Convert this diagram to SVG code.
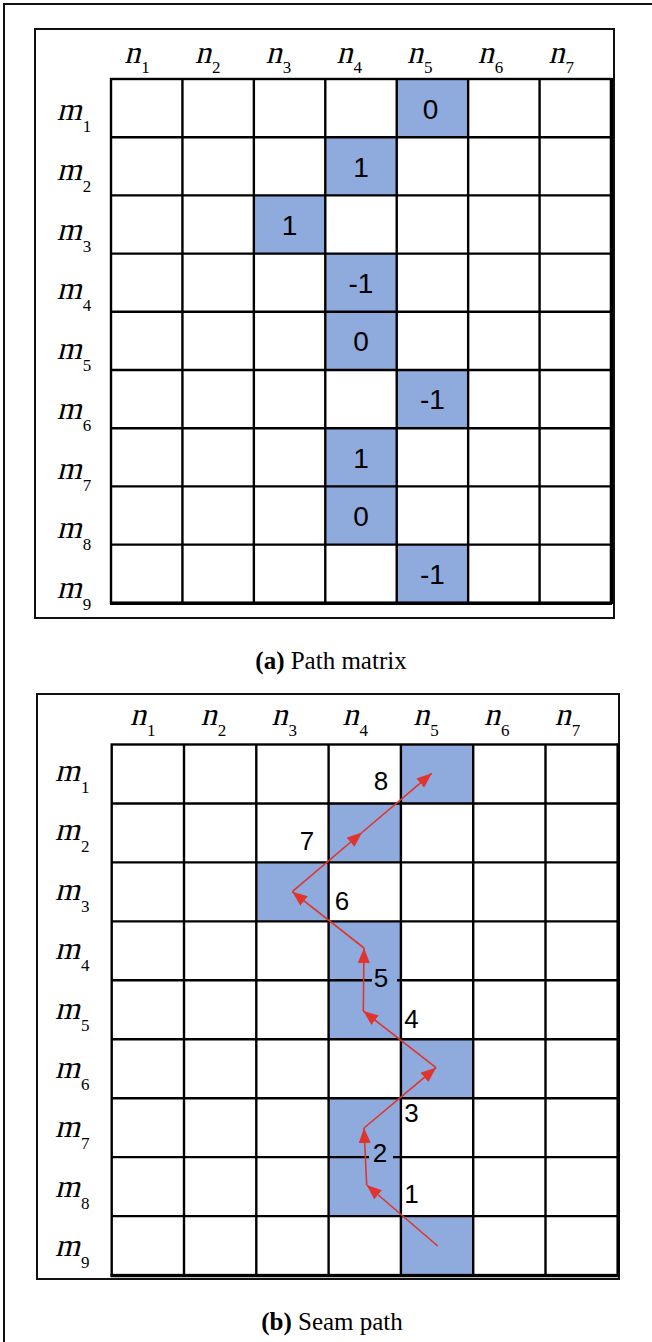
<svg xmlns="http://www.w3.org/2000/svg" width="652" height="1342" viewBox="0 0 652 1342">
<style>
.frame{fill:none;stroke:#111;stroke-width:2}
.box{fill:#fff;stroke:#111;stroke-width:2}
.grid{fill:none;stroke:#000;stroke-width:2.4}
.hl{fill:#8FAADC}
.lbl{font-family:"Liberation Serif","Times New Roman",serif;font-size:32px;fill:#000}
.sub{font-family:"Liberation Serif","Times New Roman",serif;font-size:17px;fill:#000}
.num{font-family:"Liberation Sans",Arial,sans-serif;font-size:28px;fill:#000;text-anchor:middle}
.snum{font-family:"Liberation Sans",Arial,sans-serif;font-size:26px;fill:#000;text-anchor:middle}
.cap{font-family:"Liberation Serif","Times New Roman",serif;font-size:25px;fill:#000;text-anchor:middle}
.arrow{fill:none;stroke:#E0342C;stroke-width:1.6;marker-end:url(#ah)}
</style>
<defs>
<marker id="ah" markerUnits="userSpaceOnUse" markerWidth="16" markerHeight="12" refX="15" refY="6" orient="auto">
<path d="M0,0 L15,6 L0,12 z" fill="#E0342C"/>
</marker>
</defs>
<rect class="frame" x="4" y="4" width="700" height="1400"/>

<!-- Panel (a) -->
<g id="panel-a">
<rect class="box" x="35" y="29" width="579" height="589"/>
<g id="a-cells">
<g id="a-m1n5"><rect class="hl" x="396.72" y="79" width="71.43" height="58.2"/><text class="num" x="430.5" y="118.5">0</text></g>
<g id="a-m2n4"><rect class="hl" x="325.29" y="137.2" width="71.43" height="58.2"/><text class="num" x="361" y="176.5">1</text></g>
<g id="a-m3n3"><rect class="hl" x="253.86" y="195.4" width="71.43" height="58.2"/><text class="num" x="289.6" y="234.7">1</text></g>
<g id="a-m4n4"><rect class="hl" x="325.29" y="253.6" width="71.43" height="58.2"/><text class="num" x="361" y="292.9">-1</text></g>
<g id="a-m5n4"><rect class="hl" x="325.29" y="311.8" width="71.43" height="58.2"/><text class="num" x="361" y="351.1">0</text></g>
<g id="a-m6n5"><rect class="hl" x="396.72" y="370" width="71.43" height="58.2"/><text class="num" x="432.4" y="409.3">-1</text></g>
<g id="a-m7n4"><rect class="hl" x="325.29" y="428.2" width="71.43" height="58.2"/><text class="num" x="361" y="467.5">1</text></g>
<g id="a-m8n4"><rect class="hl" x="325.29" y="486.4" width="71.43" height="58.2"/><text class="num" x="361" y="525.7">0</text></g>
<g id="a-m9n5"><rect class="hl" x="396.72" y="544.6" width="71.43" height="58.2"/><text class="num" x="432.4" y="583.9">-1</text></g>
</g>
<g id="a-grid" class="grid">
<rect x="111" y="79" width="500" height="523.8"/>
<path d="M182.43,79V602.8M253.86,79V602.8M325.29,79V602.8M396.72,79V602.8M468.15,79V602.8M539.58,79V602.8"/>
<path d="M111,137.2H611M111,195.4H611M111,253.6H611M111,311.8H611M111,370H611M111,428.2H611M111,486.4H611M111,544.6H611"/>
<path d="M611.5,78V604M110,603.3H612" stroke-width="3.2"/>
</g>
<g id="a-col-labels">
<g transform="translate(124.3,63)"><text class="lbl" transform="skewX(-14)">n</text><text class="sub" x="17" y="10">1</text></g>
<g transform="translate(195,63)"><text class="lbl" transform="skewX(-14)">n</text><text class="sub" x="17" y="10">2</text></g>
<g transform="translate(265.7,63)"><text class="lbl" transform="skewX(-14)">n</text><text class="sub" x="17" y="10">3</text></g>
<g transform="translate(336.4,63)"><text class="lbl" transform="skewX(-14)">n</text><text class="sub" x="17" y="10">4</text></g>
<g transform="translate(407.1,63)"><text class="lbl" transform="skewX(-14)">n</text><text class="sub" x="17" y="10">5</text></g>
<g transform="translate(477.8,63)"><text class="lbl" transform="skewX(-14)">n</text><text class="sub" x="17" y="10">6</text></g>
<g transform="translate(548.5,63)"><text class="lbl" transform="skewX(-14)">n</text><text class="sub" x="17" y="10">7</text></g>
</g>
<g id="a-row-labels">
<g transform="translate(56.7,120)"><text class="lbl" transform="skewX(-14)">m</text><text class="sub" x="26" y="12">1</text></g>
<g transform="translate(56.7,179.8)"><text class="lbl" transform="skewX(-14)">m</text><text class="sub" x="26" y="12">2</text></g>
<g transform="translate(56.7,239.5)"><text class="lbl" transform="skewX(-14)">m</text><text class="sub" x="26" y="12">3</text></g>
<g transform="translate(56.7,299.3)"><text class="lbl" transform="skewX(-14)">m</text><text class="sub" x="26" y="12">4</text></g>
<g transform="translate(56.7,359)"><text class="lbl" transform="skewX(-14)">m</text><text class="sub" x="26" y="12">5</text></g>
<g transform="translate(56.7,418.8)"><text class="lbl" transform="skewX(-14)">m</text><text class="sub" x="26" y="12">6</text></g>
<g transform="translate(56.7,478.5)"><text class="lbl" transform="skewX(-14)">m</text><text class="sub" x="26" y="12">7</text></g>
<g transform="translate(56.7,538.3)"><text class="lbl" transform="skewX(-14)">m</text><text class="sub" x="26" y="12">8</text></g>
<g transform="translate(56.7,598)"><text class="lbl" transform="skewX(-14)">m</text><text class="sub" x="26" y="12">9</text></g>
</g>
<text class="cap" x="331" y="669"><tspan font-weight="bold">(a)</tspan> Path matrix</text>
</g>

<!-- Panel (b) -->
<g id="panel-b">
<rect class="box" x="37" y="694" width="582" height="585"/>
<g id="b-cells">
<rect id="b-m1n5" class="hl" x="400.9" y="744.5" width="72.3" height="58.95"/>
<rect id="b-m2n4" class="hl" x="328.6" y="803.45" width="72.3" height="58.95"/>
<rect id="b-m3n3" class="hl" x="256.3" y="862.4" width="72.3" height="58.95"/>
<rect id="b-m4n4" class="hl" x="328.6" y="921.35" width="72.3" height="58.95"/>
<rect id="b-m5n4" class="hl" x="328.6" y="980.3" width="72.3" height="58.95"/>
<rect id="b-m6n5" class="hl" x="400.9" y="1039.25" width="72.3" height="58.95"/>
<rect id="b-m7n4" class="hl" x="328.6" y="1098.2" width="72.3" height="58.95"/>
<rect id="b-m8n4" class="hl" x="328.6" y="1157.15" width="72.3" height="58.95"/>
<rect id="b-m9n5" class="hl" x="400.9" y="1216.1" width="72.3" height="58.95"/>
</g>
<g id="b-grid" class="grid">
<rect x="111.7" y="744.5" width="506.1" height="530.55"/>
<path d="M184,744.5V1275M256.3,744.5V1275M328.6,744.5V1275M400.9,744.5V1275M473.2,744.5V1275M545.5,744.5V1275"/>
<path d="M111.7,803.45H617.8M111.7,862.4H617.8M111.7,921.35H617.8M111.7,980.3H617.8M111.7,1039.25H617.8M111.7,1098.2H617.8M111.7,1157.15H617.8M111.7,1216.1H617.8"/>
<path d="M618.3,743.5V1276.5M110.5,1275.7H619" stroke-width="3.2"/>
</g>
<rect class="hl" x="372" y="969" width="25" height="21"/>
<rect class="hl" x="369" y="1146" width="24" height="21"/>
<g id="b-col-labels">
<g transform="translate(130,725)"><text class="lbl" transform="skewX(-14)">n</text><text class="sub" x="17" y="11">1</text></g>
<g transform="translate(200.8,725)"><text class="lbl" transform="skewX(-14)">n</text><text class="sub" x="17" y="11">2</text></g>
<g transform="translate(271.6,725)"><text class="lbl" transform="skewX(-14)">n</text><text class="sub" x="17" y="11">3</text></g>
<g transform="translate(342.4,725)"><text class="lbl" transform="skewX(-14)">n</text><text class="sub" x="17" y="11">4</text></g>
<g transform="translate(413.2,725)"><text class="lbl" transform="skewX(-14)">n</text><text class="sub" x="17" y="11">5</text></g>
<g transform="translate(484,725)"><text class="lbl" transform="skewX(-14)">n</text><text class="sub" x="17" y="11">6</text></g>
<g transform="translate(554.8,725)"><text class="lbl" transform="skewX(-14)">n</text><text class="sub" x="17" y="11">7</text></g>
</g>
<g id="b-row-labels">
<g transform="translate(55,781)"><text class="lbl" transform="skewX(-14)">m</text><text class="sub" x="26" y="12">1</text></g>
<g transform="translate(55,840.4)"><text class="lbl" transform="skewX(-14)">m</text><text class="sub" x="26" y="12">2</text></g>
<g transform="translate(55,899.8)"><text class="lbl" transform="skewX(-14)">m</text><text class="sub" x="26" y="12">3</text></g>
<g transform="translate(55,959.2)"><text class="lbl" transform="skewX(-14)">m</text><text class="sub" x="26" y="12">4</text></g>
<g transform="translate(55,1018.6)"><text class="lbl" transform="skewX(-14)">m</text><text class="sub" x="26" y="12">5</text></g>
<g transform="translate(55,1078)"><text class="lbl" transform="skewX(-14)">m</text><text class="sub" x="26" y="12">6</text></g>
<g transform="translate(55,1137.4)"><text class="lbl" transform="skewX(-14)">m</text><text class="sub" x="26" y="12">7</text></g>
<g transform="translate(55,1196.8)"><text class="lbl" transform="skewX(-14)">m</text><text class="sub" x="26" y="12">8</text></g>
<g transform="translate(55,1256.2)"><text class="lbl" transform="skewX(-14)">m</text><text class="sub" x="26" y="12">9</text></g>
</g>
<g id="connectors">
<path id="s1" class="arrow" d="M437.7,1246 L366.7,1185"/>
<path id="s2" class="arrow" d="M366.7,1185 L364,1128"/>
<path id="s3" class="arrow" d="M364,1128 L436,1067.7"/>
<path id="s4" class="arrow" d="M436,1067.7 L363.3,1011"/>
<path id="s5" class="arrow" d="M363.3,1011 L364,948"/>
<path id="s6" class="arrow" d="M364,948 L292.3,891.7"/>
<path id="s7" class="arrow" d="M292.3,891.7 L362,832.5"/>
<path id="s8" class="arrow" d="M362,832.5 L431.7,773.3"/>
</g>
<g id="step-labels">
<text class="snum" x="411.5" y="1203">1</text>
<text class="snum" x="380" y="1162">2</text>
<text class="snum" x="411.5" y="1121.5">3</text>
<text class="snum" x="411.5" y="1028">4</text>
<text class="snum" x="381" y="987">5</text>
<text class="snum" x="342" y="910">6</text>
<text class="snum" x="307" y="850">7</text>
<text class="snum" x="381" y="790">8</text>
</g>
<text class="cap" x="332" y="1330"><tspan font-weight="bold">(b)</tspan> Seam path</text>
</g>
</svg>
